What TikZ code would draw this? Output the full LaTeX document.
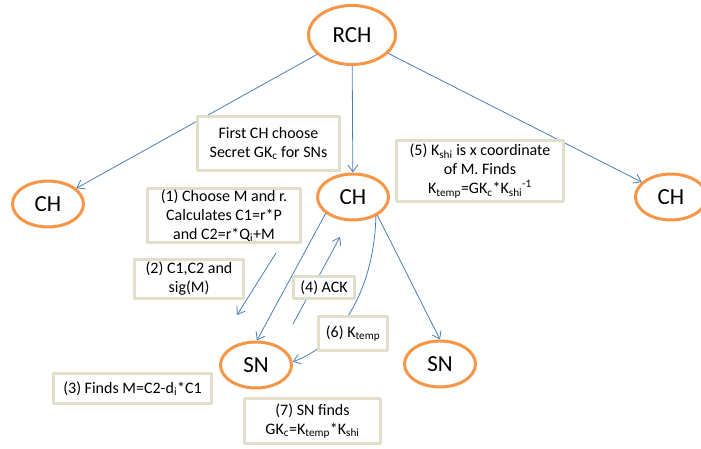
\documentclass[tikz,border=0pt]{standalone}
\usepackage{fontspec}
\setmainfont{Carlito}
\usetikzlibrary{arrows.meta,shapes.geometric}
\definecolor{nodeorange}{RGB}{247,150,70}
\definecolor{linkblue}{RGB}{74,126,187}
\definecolor{boxtan}{RGB}{226,222,204}
\tikzset{
  ellnode/.style={ellipse, draw=nodeorange, line width=3pt, fill=white, inner sep=0pt,
    minimum width=71, minimum height=46, font=\fontsize{23}{27}\selectfont},
  msgbox/.style={draw=boxtan, line width=3pt, fill=white, align=center, inner sep=1pt,
    font=\fontsize{16}{19}\selectfont},
  link/.style={draw=linkblue, line width=0.8pt, ->}
}

\begin{document}
\begin{tikzpicture}[x=1pt,y=-1pt,line cap=round,line join=round,>={Straight Barb[length=7pt,width=10pt]}]
\useasboundingbox (0,0) rectangle (701,449);
\node[ellnode, minimum width=87, minimum height=59] (rch) at (352,35) {RCH};
\node[ellnode] (chl) at (48,204) {CH};
\node[ellnode] (chm) at (353,197) {CH};
\node[ellnode] (chr) at (671,197) {CH};
\node[ellnode] (snl) at (256,365) {SN};
\node[ellnode] (snr) at (440,364) {SN};
\coordinate (msgtop) at (276,253);
\coordinate (msgbot) at (237,315);
\coordinate (ackbot) at (293,324);
\coordinate (acktop) at (340,237);
\draw[link] (rch) -- (chl);
\draw[link] (rch) -- (chm);
\draw[link] (rch) -- (chr);
\draw[link] (chm.211) -- (snl.88);
\draw[link] (chm.-37) -- (snr.north);
\draw[link] (msgtop) -- (msgbot);
\draw[link] (ackbot) -- (acktop);
\draw[link] (chm.-40) .. controls (374,290) and (340,345) .. (snl.5);
\node[msgbox, minimum width=142, minimum height=54] (first) at (268.5,143.5) {First CH choose\\Secret GK\textsubscript{c} for SNs};
\node[msgbox, minimum width=153, minimum height=54] (step1) at (224,215.5) {(1) Choose M and r.\\Calculates C1=r*P\\and C2=r*Q\textsubscript{i}+M};
\node[msgbox, minimum width=109, minimum height=39] (step2) at (189,279) {(2) C1,C2 and\\sig(M)};
\node[msgbox, minimum width=158, minimum height=30] (step3) at (132.5,388.5) {(3) Finds M=C2-d\textsubscript{i}*C1};
\node[msgbox, minimum width=61, minimum height=22] (step4) at (324,287.5) {(4) ACK};
\node[msgbox, minimum width=167, minimum height=61] (step5) at (480,171) {(5) K\textsubscript{shi} is x coordinate\\of M. Finds\\K\textsubscript{temp}=GK\textsubscript{c}*K\textsubscript{shi}\textsuperscript{-1}};
\node[msgbox, minimum width=69, minimum height=34] (step6) at (353,333.5) {(6) K\textsubscript{temp}};
\node[msgbox, minimum width=136, minimum height=45] (step7) at (312.5,421) {(7) SN finds\\GK\textsubscript{c}=K\textsubscript{temp}*K\textsubscript{shi}};
\end{tikzpicture}
\end{document}
